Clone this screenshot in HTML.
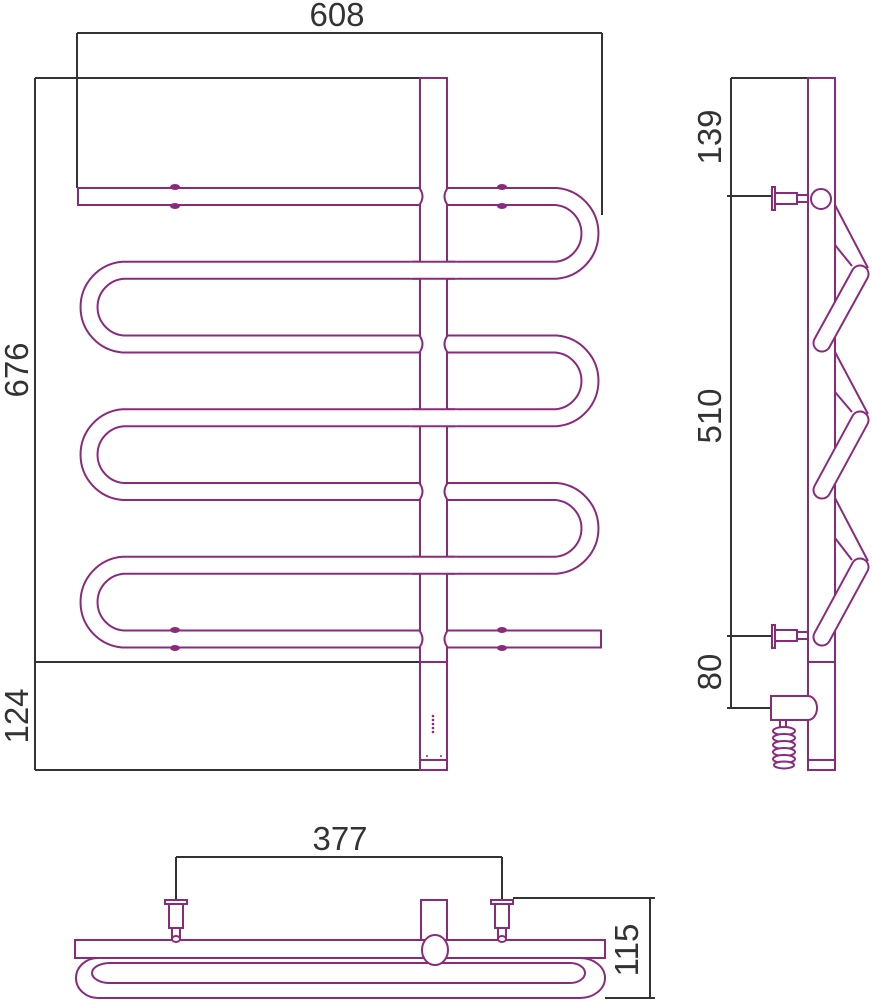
<!DOCTYPE html>
<html><head><meta charset="utf-8"><style>
html,body{margin:0;padding:0;background:#fff}
svg{display:block}
text{font-family:"Liberation Sans",sans-serif;font-size:33px;fill:#333}
</style></head><body>
<svg width="872" height="1000" viewBox="0 0 872 1000" xmlns="http://www.w3.org/2000/svg">
<g fill="none" stroke="#333" stroke-width="2">
<path d="M77,33H602M77,33V188M602,33V215"/>
<path d="M35,78V770M35,78H420M35,662H420M35,770H420"/>
<path d="M731,78V708M731,78H808M727,196H772M727,636H772M727,708H771"/>
<path d="M176,857H502M176,857V900M502,857V900"/>
<path d="M513,898H655M605,998H655M650,898V998"/>
</g>
<text x="337" y="26" text-anchor="middle">608</text>
<text transform="translate(28,370) rotate(-90)" text-anchor="middle">676</text>
<text transform="translate(28,716) rotate(-90)" text-anchor="middle">124</text>
<text transform="translate(721,137) rotate(-90)" text-anchor="middle">139</text>
<text transform="translate(721,416) rotate(-90)" text-anchor="middle">510</text>
<text transform="translate(721,672) rotate(-90)" text-anchor="middle">80</text>
<text x="340" y="850" text-anchor="middle">377</text>
<text transform="translate(638,950) rotate(-90)" text-anchor="middle">115</text>

<g stroke="#8a2a7e" fill="none">
<path d="M77,196.5H556A37,37 0 0 1 556,270.25H123A37,37 0 0 0 123,344H556A37,37 0 0 1 556,417.75H123A37,37 0 0 0 123,491.5H556A37,37 0 0 1 556,565.25H123A37,37 0 0 0 123,639H602" stroke-width="19"/>
<path d="M77,196.5H556A37,37 0 0 1 556,270.25H123A37,37 0 0 0 123,344H556A37,37 0 0 1 556,417.75H123A37,37 0 0 0 123,491.5H556A37,37 0 0 1 556,565.25H123A37,37 0 0 0 123,639H602" stroke="#fff" stroke-width="15"/>
<path d="M78,187V206M601,629.5V648.5" stroke-width="2"/>
<rect x="420" y="78" width="27" height="692" fill="#fff" stroke-width="2"/>
<path d="M420,662H447M420,760H447" stroke-width="2"/>
<path d="M412,270.25H455M412,417.75H455M412,565.25H455" stroke-width="19"/>
<path d="M410,270.25H457M410,417.75H457M410,565.25H457" stroke="#fff" stroke-width="15"/>
<g stroke-width="2" fill="#fff">
<path d="M419,187.5Q426,196.5 419,205.5M448,187.5Q441,196.5 448,205.5"/>
<path d="M419,335Q426,344 419,353M448,335Q441,344 448,353"/>
<path d="M419,482.5Q426,491.5 419,500.5M448,482.5Q441,491.5 448,500.5"/>
<path d="M419,630Q426,639 419,648M448,630Q441,639 448,648"/>
</g>
<g fill="#8a2a7e" stroke="none">
<ellipse cx="175" cy="187" rx="5" ry="3"/><ellipse cx="175" cy="206" rx="5" ry="3"/>
<ellipse cx="502" cy="187" rx="5" ry="3"/><ellipse cx="502" cy="206" rx="5" ry="3"/>
<ellipse cx="175" cy="630" rx="5" ry="3"/><ellipse cx="175" cy="648" rx="5" ry="3"/>
<ellipse cx="502" cy="630" rx="5" ry="3"/><ellipse cx="502" cy="648" rx="5" ry="3"/>
<circle cx="433" cy="716" r="1.3"/><circle cx="433" cy="720" r="1.3"/><circle cx="433" cy="724" r="1.3"/><circle cx="433" cy="728" r="1.3"/><circle cx="433" cy="732" r="1.3"/>
<circle cx="427" cy="756" r="1"/><circle cx="441" cy="756" r="1"/>
</g>

<g stroke-width="2">
<path d="M835,205L868,268M835,245L852,266"/>
<path d="M835,352L868,414M835,392L852,412"/>
<path d="M835,498L868,561M835,538L852,560"/>
</g>
<rect x="808" y="78" width="27" height="692" fill="#fff" stroke-width="2"/>
<path d="M808,662H835M808,760H835" stroke-width="2"/>
<g stroke-linecap="round">
<path d="M822,343L860,274M822,490L860,420M822,637L860,567" stroke-width="19"/>
<path d="M822,343L860,274M822,490L860,420M822,637L860,567" stroke="#fff" stroke-width="15"/>
</g>
<g stroke-width="2" fill="#fff">
<rect x="772" y="187" width="3" height="23"/>
<rect x="775" y="193" width="22" height="11"/>
<rect x="797" y="195" width="11" height="7"/>
<circle cx="821" cy="199" r="10"/>
<rect x="772" y="625" width="3" height="23"/>
<rect x="775" y="630" width="22" height="11"/>
<rect x="797" y="632" width="11" height="7"/>
<path d="M771,696H808A9,12 0 0 1 808,720H771Z"/>
<path d="M780,720V728M786,720V728"/>
<ellipse cx="784" cy="731" rx="11" ry="4"/>
<ellipse cx="784" cy="738" rx="11" ry="4"/>
<ellipse cx="784" cy="745" rx="11" ry="4"/>
<ellipse cx="784" cy="752" rx="11" ry="4"/>
<ellipse cx="784" cy="759" rx="11" ry="4"/>
<ellipse cx="784" cy="765" rx="10" ry="3.5"/>
</g>

<g stroke-width="2" fill="#fff">
<path d="M98,958H580A25,20 0 0 1 580,998H98A22,20 0 0 1 98,958Z"/>
<path d="M110,963H570A15,10 0 0 1 570,983H110A18,10 0 0 1 110,963Z"/>
<rect x="75" y="940" width="530" height="18"/>
<rect x="421" y="900" width="26" height="40"/>
<ellipse cx="435" cy="950" rx="13" ry="15"/>
<rect x="165" y="900" width="22" height="4"/>
<rect x="169" y="904" width="14" height="24"/>
<rect x="172" y="928" width="8" height="10"/>
<ellipse cx="176" cy="939" rx="4" ry="3"/>
<rect x="491" y="900" width="22" height="4"/>
<rect x="495" y="904" width="14" height="24"/>
<rect x="498" y="928" width="8" height="10"/>
<ellipse cx="502" cy="939" rx="4" ry="3"/>
</g>
</g>
</svg>
</body></html>
